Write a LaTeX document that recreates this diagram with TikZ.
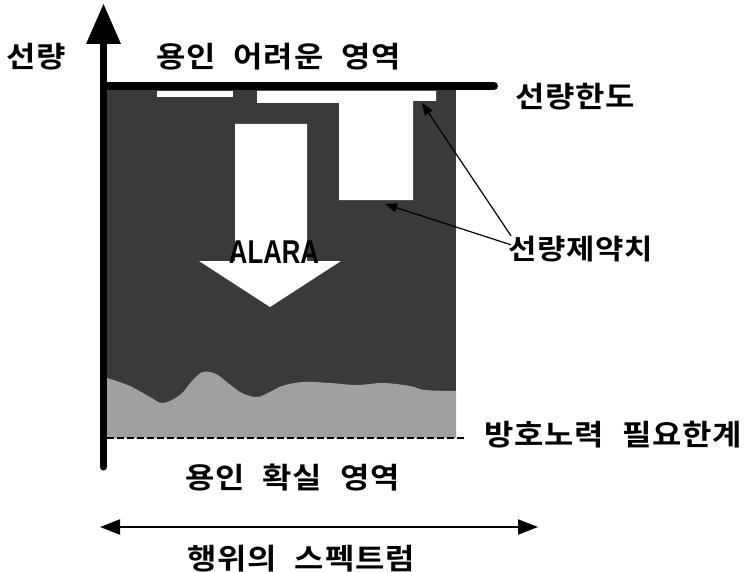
\documentclass[tikz,border=0pt]{standalone}
\usepackage{fontspec}
\usetikzlibrary{arrows.meta}
\newfontfamily\kr{Noto Sans CJK KR}[UprightFont=* Bold,LetterSpace=3,WordSpace=2.2,FakeStretch=1.1]
\setmainfont{Liberation Sans}
\definecolor{darkzone}{HTML}{3A3A3A}
\definecolor{lightzone}{HTML}{A0A0A0}
\tikzset{
  lbl/.style={inner sep=0pt,font=\kr\fontsize{29}{30}\selectfont},
  pointer/.style={line width=1.2pt,-{Triangle[length=12pt,width=9pt]}},
}
\begin{document}
\begin{tikzpicture}[x=1pt,y=-1pt]
\useasboundingbox (0,0) rectangle (746,572);
% dark zone
\fill[darkzone] (107,88) rectangle (456,438);
% light zone
\fill[lightzone] plot[smooth,tension=0.6] coordinates {(107,378) (130,386) (150,397) (163,403) (180,395) (192,381) (203,372) (216,374) (228,383) (242,393) (257,397) (270,392) (282,386) (303,382) (330,383) (357,385) (383,383) (410,386) (425,390) (456,391)}
  -- (456,438) -- (107,438) -- cycle;
% white openings
\fill[white] (157,91) rectangle (233,97);
\fill[white] (257,91) -- (436,91) -- (436,101) -- (413,101) -- (413,200) -- (339,200) -- (339,103) -- (257,103) -- cycle;
% ALARA arrow
\fill[white] (235,124) -- (307,124) -- (307,261) -- (341,261) -- (270,307) -- (199,261) -- (235,261) -- cycle;
\node[inner sep=0pt,font=\bfseries\fontsize{33}{33}\selectfont,xscale=0.78] (alara) at (274,252) {ALARA};
% dashed line
\coordinate (dl) at (107,438);
\coordinate (dr) at (466,438);
\draw[line width=2pt,dash pattern=on 7pt off 3pt] (dl) -- (dr);
% top limit bar
\coordinate (bl) at (104,86);
\coordinate (br) at (494,86);
\draw[line width=8pt,line cap=round] (bl) -- (br);
% vertical axis
\coordinate (ybot) at (103.5,467);
\coordinate (ytop) at (103.5,40);
\draw[line width=7pt,line cap=round] (ybot) -- (ytop);
\fill (86,44) -- (121,44) -- (103.5,4) -- cycle;
% bottom spectrum arrow
\coordinate (sl) at (100,527);
\coordinate (sr) at (538,527);
\draw[line width=2pt,{Triangle[length=20pt,width=15pt]}-{Triangle[length=20pt,width=15pt]}] (sl) -- (sr);
% labels
\node[lbl,anchor=west] (dose) at (6,57) {선량};
\node[lbl,anchor=west] (hard) at (156,57) {용인 어려운 영역};
\node[lbl,anchor=west] (limit) at (515,97) {선량한도};
\node[lbl,anchor=west,font=\kr\fontsize{28}{29}\selectfont] (constr) at (508,249) {선량제약치};
\node[lbl,anchor=west] (protect) at (484,435) {방호노력 필요한계};
\node[lbl,anchor=west] (safe) at (185,478) {용인 확실 영역};
\node[lbl,anchor=west] (spec) at (187,559) {행위의 스펙트럼};
% pointers
\coordinate (c1) at (422,103);
\coordinate (c2) at (385,204);
\draw[pointer] ([xshift=3pt,yshift=0pt]constr.north west) -- (c1);
\draw[pointer] ([xshift=3pt,yshift=-9pt]constr.north west) -- (c2);
\end{tikzpicture}
\end{document}
